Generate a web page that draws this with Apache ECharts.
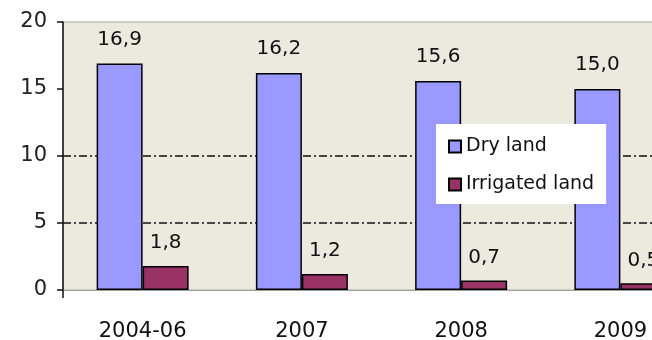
<!DOCTYPE html>
<html>
<head>
<meta charset="utf-8">
<script src="https://cdn.jsdelivr.net/npm/echarts@6/dist/echarts.min.js"></script>
<style>
  html, body { margin: 0; padding: 0; background: #ffffff; }
  #chart { width: 652px; height: 340px; }
</style>
</head>
<body>
<div id="chart"></div>
<script>
// Land area by period (values shown with a decimal comma)
const categories = ['2004-06', '2007', '2008', '2009'];
const dryLand = [16.9, 16.2, 15.6, 15.0];
const irrigatedLand = [1.8, 1.2, 0.7, 0.5];
const seriesNames = ['Dry land', 'Irrigated land'];
const yTicks = [0, 5, 10, 15, 20];

const FONT = 'DejaVu Sans';
const commaLabel = p => p.value.toFixed(1).replace('.', ',');

const chart = echarts.init(document.getElementById('chart'), null, { renderer: 'canvas' });

chart.setOption({
  animation: false,
  backgroundColor: '#ffffff',
  grid: {
    left: 63, top: 22, width: 637, height: 268,
    outerBoundsMode: 'none',
    containLabel: false,
    show: true,
    backgroundColor: '#ece9df',
    borderColor: '#a8a8a8',
    borderWidth: 1
  },
  legend: {
    left: 436, top: 124,
    orient: 'vertical',
    backgroundColor: '#ffffff',
    padding: [13, 12, 10, 12],
    itemWidth: 12, itemHeight: 12,
    itemGap: 19,
    icon: 'rect',
    textStyle: { fontFamily: FONT, fontSize: 19, color: '#111' },
    data: seriesNames
  },
  xAxis: {
    type: 'category',
    data: categories,
    axisLine: { lineStyle: { color: '#a0a0a0', width: 1 } },
    axisTick: { show: true, length: 8, interval: i => i === 0, lineStyle: { color: '#111', width: 1.5 } },
    axisLabel: { margin: 31, fontFamily: FONT, fontSize: 21, color: '#111' }
  },
  yAxis: {
    type: 'value',
    min: yTicks[0], max: yTicks[yTicks.length - 1], interval: 5,
    axisLine: { show: true, lineStyle: { color: '#111', width: 1.5 } },
    axisTick: { show: true, length: 6, lineStyle: { color: '#111', width: 1.5 } },
    axisLabel: { margin: 16, fontFamily: FONT, fontSize: 21, color: '#222' },
    splitLine: {
      show: true,
      lineStyle: {
        color: ['rgba(0,0,0,0)', '#111', '#111', 'rgba(0,0,0,0)', 'rgba(0,0,0,0)'],
        width: 1.5,
        type: [8, 3, 2, 3]
      }
    }
  },
  series: [
    {
      name: seriesNames[0],
      type: 'bar',
      data: dryLand,
      barWidth: 46,
      barGap: '0%',
      itemStyle: { color: '#9999ff', borderColor: '#000', borderWidth: 1.5 },
      label: { show: true, position: 'top', distance: 14, formatter: commaLabel,
               fontFamily: FONT, fontSize: 20, color: '#111' }
    },
    {
      name: seriesNames[1],
      type: 'bar',
      data: irrigatedLand,
      barWidth: 46,
      barGap: '0%',
      itemStyle: { color: '#993366', borderColor: '#000', borderWidth: 1.5 },
      label: { show: true, position: 'top', distance: 13, formatter: commaLabel,
               fontFamily: FONT, fontSize: 20, color: '#111' }
    }
  ]
});
</script>
</body>
</html>
